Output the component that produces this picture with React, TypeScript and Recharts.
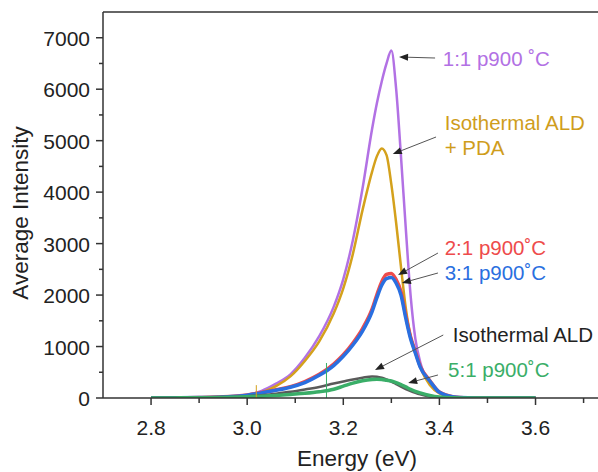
import React from "react";
import {
  LineChart,
  Line,
  XAxis,
  YAxis,
  ReferenceLine,
  ReferenceDot,
} from "recharts";

// photon energy grid (eV), shared by all spectra
const energy = [
  2.8, 2.85, 2.9, 2.95, 3.0, 3.03, 3.06, 3.09, 3.12, 3.15, 3.18, 3.2, 3.22,
  3.24, 3.26, 3.27, 3.28, 3.29, 3.3, 3.31, 3.32, 3.33, 3.34, 3.35, 3.36, 3.38,
  3.4, 3.43, 3.46, 3.5, 3.55, 3.6,
];

// average intensity per sample
const p900_1to1 = [
  0, 3, 10, 25, 60, 140, 280, 460, 780, 1200, 1770, 2310, 3070, 4070, 5230,
  5730, 6150, 6500, 6750, 6000, 4700, 3300, 2000, 1150, 700, 300, 110, 25, 5,
  0, 0, 0,
];
const isoAldPda = [
  0, 3, 8, 20, 50, 110, 230, 420, 720, 1100, 1640, 2130, 2800, 3650, 4400,
  4700, 4850, 4720, 4150, 3400, 2550, 1750, 1200, 900, 600, 250, 90, 20, 5, 0,
  0, 0,
];
const p900_2to1 = [
  0, 3, 8, 22, 60, 105, 160, 220, 320, 460, 660, 840, 1070, 1350, 1730, 2010,
  2260, 2400, 2420, 2300, 2070, 1600, 1190, 900, 620, 340, 115, 22, 5, 0, 0, 0,
];
const p900_3to1 = [
  0, 3, 8, 20, 55, 100, 150, 210, 300, 440, 630, 810, 1030, 1300, 1680, 1950,
  2190, 2320, 2340, 2230, 2000, 1550, 1150, 870, 600, 330, 110, 20, 5, 0, 0, 0,
];
const isoAld = [
  0, 3, 8, 18, 35, 55, 85, 120, 165, 215, 280, 320, 360, 395, 420, 415, 395,
  360, 320, 270, 220, 175, 135, 100, 70, 30, 12, 4, 0, 0, 0, 0,
];
const p900_5to1 = [
  0, 2, 5, 12, 25, 35, 50, 70, 90, 120, 170, 230, 290, 335, 360, 365, 360, 345,
  330, 300, 260, 215, 170, 130, 100, 50, 20, 5, 0, 0, 0, 0,
];

// single-channel spikes in the raw spectra
const pdaSpikeE = [3.019, 3.019];
const pdaSpikeV = [0, 250];
const ratio5SpikeE = [3.165, 3.165];
const ratio5SpikeV = [0, 680];

const xTicks = [2.8, 2.9, 3.0, 3.1, 3.2, 3.3, 3.4, 3.5, 3.6, 3.7];
const yTicks = [
  0, 500, 1000, 1500, 2000, 2500, 3000, 3500, 4000, 4500, 5000, 5500, 6000,
  6500, 7000,
];

const series = [
  { key: "p11", values: p900_1to1, color: "#b271e4", width: 2.5 },
  { key: "pda", values: isoAldPda, color: "#d4a11c", width: 2.5 },
  { key: "p21", values: p900_2to1, color: "#ee4b4b", width: 3.5 },
  { key: "p31", values: p900_3to1, color: "#2a6fe0", width: 3.5 },
  { key: "iso", values: isoAld, color: "#5a5a5a", width: 2.5 },
  { key: "p51", values: p900_5to1, color: "#3aae68", width: 3.5 },
];

const rows = energy.map((e, i) => {
  const r: Record<string, number> = { e };
  series.forEach((s) => (r[s.key] = s.values[i]));
  return r;
});

const pdaSpike = pdaSpikeE.map((e, i) => ({ e, v: pdaSpikeV[i] }));
const ratio5Spike = ratio5SpikeE.map((e, i) => ({ e, v: ratio5SpikeV[i] }));

// annotation text, in data coordinates (energy, intensity)
const labels = [
  { text: "1:1 p900 \u02DAC", e: 3.407, v: 6450, color: "#b271e4" },
  { text: "Isothermal ALD", e: 3.411, v: 5200, color: "#cf9d1c" },
  { text: "+ PDA", e: 3.411, v: 4720, color: "#cf9d1c" },
  { text: "2:1 p900\u02DAC", e: 3.411, v: 2780, color: "#ee4b4b" },
  { text: "3:1 p900\u02DAC", e: 3.411, v: 2290, color: "#2a6fe0" },
  { text: "Isothermal ALD", e: 3.428, v: 1090, color: "#222" },
  { text: "5:1 p900\u02DAC", e: 3.418, v: 410, color: "#3aae68" },
];

// arrows: tail -> head
const arrows = [
  [3.391, 6606, 3.316, 6626],
  [3.393, 5071, 3.303, 4741],
  [3.397, 2817, 3.314, 2390],
  [3.397, 2429, 3.322, 2234],
  [3.408, 1224, 3.266, 544],
  [3.397, 447, 3.335, 291],
];

const FONT = '"Liberation Sans", Arial, Helvetica, sans-serif';
const AXIS = "#333";

const XTick = (props: any) => {
  const { x, y, payload } = props;
  const major = Math.round(payload.value * 10) % 2 === 0;
  return (
    <g>
      <line x1={x} x2={x} y1={y} y2={y + (major ? 7 : 5)} stroke={AXIS} strokeWidth={1.5} />
      {major && (
        <text x={x} y={y + 37} textAnchor="middle" fontSize={21} fill="#222" fontFamily={FONT}>
          {Number(payload.value).toFixed(1)}
        </text>
      )}
    </g>
  );
};

const YTick = (props: any) => {
  const { x, y, payload } = props;
  const major = payload.value % 1000 === 0;
  return (
    <g>
      <line x1={x - (major ? 7 : 4)} x2={x} y1={y} y2={y} stroke={AXIS} strokeWidth={1.5} />
      {major && (
        <text x={x - 13} y={y + 8} textAnchor="end" fontSize={21} fill="#222" fontFamily={FONT}>
          {payload.value}
        </text>
      )}
    </g>
  );
};

const Arrow = (p: any) => {
  const { x1, y1, x2, y2 } = p;
  const dx = x2 - x1;
  const dy = y2 - y1;
  const len = Math.hypot(dx, dy) || 1;
  const ux = dx / len;
  const uy = dy / len;
  const hl = 9;
  const hw = 3.5;
  const bx = x2 - ux * hl;
  const by = y2 - uy * hl;
  return (
    <g>
      <line x1={x1} y1={y1} x2={bx} y2={by} stroke="#555" strokeWidth={1} />
      <polygon
        points={`${x2},${y2} ${bx - uy * hw},${by + ux * hw} ${bx + uy * hw},${by - ux * hw}`}
        fill="#222"
      />
    </g>
  );
};

export default function App() {
  return (
    <div style={{ position: "absolute", left: 0, top: 0, background: "#fff" }}>
      <LineChart
        width={598}
        height={472}
        data={rows}
        margin={{ top: 12, right: 0, bottom: 0, left: 0 }}
      >
        <XAxis
          dataKey="e"
          type="number"
          domain={[2.7, 3.73]}
          allowDataOverflow
          ticks={xTicks}
          interval={0}
          tick={<XTick />}
          tickLine={false}
          tickSize={0}
          tickMargin={0}
          height={74}
          axisLine={{ stroke: AXIS, strokeWidth: 1.5 }}
          label={{
            content: () => (
              <text x={357} y={466} textAnchor="middle" fontSize={22.5} fill="#222" fontFamily={FONT}>
                Energy (eV)
              </text>
            ),
          }}
        />
        <YAxis
          type="number"
          domain={[0, 7500]}
          allowDataOverflow
          ticks={yTicks}
          interval={0}
          tick={<YTick />}
          tickLine={false}
          tickSize={0}
          tickMargin={0}
          width={103}
          axisLine={{ stroke: AXIS, strokeWidth: 1.5 }}
          label={{
            content: () => (
              <text
                x={28}
                y={213}
                transform="rotate(-90 28 213)"
                textAnchor="middle"
                fontSize={22.5}
                fill="#222"
                fontFamily={FONT}
              >
                Average Intensity
              </text>
            ),
          }}
        />
        <ReferenceLine y={7500} stroke={AXIS} strokeWidth={1.5} ifOverflow="visible" />

        {series.map((s) => (
          <Line
            key={s.key}
            dataKey={s.key}
            type="monotone"
            stroke={s.color}
            strokeWidth={s.width}
            dot={false}
            activeDot={false}
            isAnimationActive={false}
          />
        ))}
        <Line
          data={pdaSpike}
          dataKey="v"
          type="linear"
          stroke="#d4a11c"
          strokeWidth={1}
          dot={false}
          activeDot={false}
          isAnimationActive={false}
        />
        <Line
          data={ratio5Spike}
          dataKey="v"
          type="linear"
          stroke="#3aae68"
          strokeWidth={1}
          dot={false}
          activeDot={false}
          isAnimationActive={false}
        />

        {arrows.map((a, i) => (
          <ReferenceLine
            key={`arrow-${i}`}
            segment={[
              { x: a[0], y: a[1] },
              { x: a[2], y: a[3] },
            ]}
            ifOverflow="visible"
            shape={<Arrow />}
          />
        ))}
        {labels.map((l, i) => (
          <ReferenceDot
            key={`label-${i}`}
            x={l.e}
            y={l.v}
            ifOverflow="visible"
            shape={(p: any) => (
              <text x={p.cx} y={p.cy} fontSize={20.5} fill={l.color} fontFamily={FONT}>
                {l.text}
              </text>
            )}
          />
        ))}
      </LineChart>
    </div>
  );
}
